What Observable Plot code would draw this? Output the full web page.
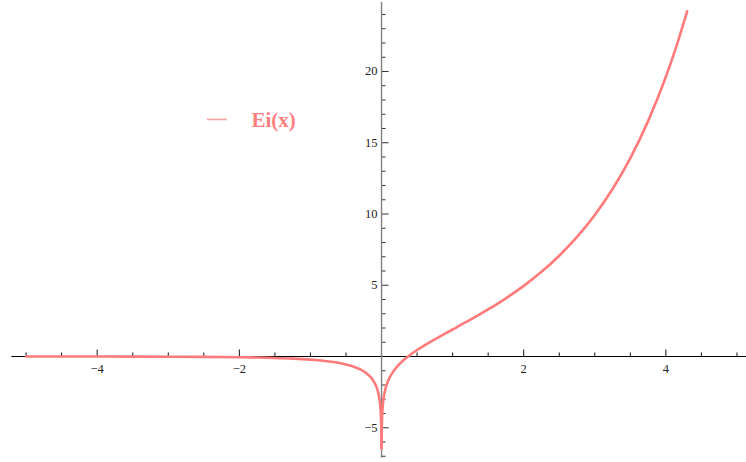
<!DOCTYPE html>
<html><head><meta charset="utf-8">
<script src="https://cdn.jsdelivr.net/npm/d3@7"></script>
<script src="https://cdn.jsdelivr.net/npm/@observablehq/plot@0.6"></script>
<style>
body{margin:0;background:#fff}
#wrap{position:relative;width:746px;height:462px}
#legend{position:absolute;left:0;top:0;pointer-events:none}
</style>
</head><body><div id="wrap"></div>
<script>
// Ei(x) for x < 0
const negX = [-5, -4.5, -4, -3.5, -3, -2.5, -2, -1.75, -1.5, -1.25, -1, -0.9, -0.8, -0.7, -0.6, -0.5, -0.4, -0.3, -0.25, -0.2, -0.15, -0.1, -0.07, -0.05, -0.03, -0.02, -0.01, -0.005, -0.002, -0.0009];
const negY = [-0.001148, -0.002073, -0.003779, -0.00697, -0.01305, -0.02491, -0.0489, -0.0698, -0.1, -0.1464, -0.2194, -0.2602, -0.3106, -0.3738, -0.4544, -0.5598, -0.7024, -0.9057, -1.0443, -1.2227, -1.4645, -1.8229, -2.1508, -2.4679, -2.9592, -3.3547, -4.0379, -4.7261, -5.6394, -6.4368];
// Ei(x) for x > 0
const posX = [0.0009, 0.002, 0.005, 0.01, 0.02, 0.03, 0.05, 0.07, 0.1, 0.15, 0.2, 0.25, 0.3, 0.4, 0.5, 0.6, 0.7, 0.8, 0.9, 1, 1.25, 1.5, 1.75, 2, 2.25, 2.5, 2.75, 3, 3.25, 3.5, 3.75, 4, 4.15, 4.3];
const posY = [-6.435, -5.6354, -4.7161, -4.0179, -3.3147, -2.8991, -2.3679, -2.0109, -1.6228, -1.1641, -0.8218, -0.5425, -0.3027, 0.1048, 0.4542, 0.7699, 1.0649, 1.3474, 1.6228, 1.8951, 2.581, 3.3013, 4.0837, 4.9542, 5.9406, 7.0738, 8.3906, 9.9338, 11.757, 13.925, 16.517, 19.631, 21.8, 24.23];

const xMajorTicks = [-4, -2, 2, 4];
const xTickLabels = ["−4", "−2", "2", "4"];
const xMinorTicks = [-5, -4.5, -4, -3.5, -3, -2.5, -2, -1.5, -1, -0.5, 0.5, 1, 1.5, 2, 2.5, 3, 3.5, 4, 4.5, 5];
const yMajorTicks = [-5, 5, 10, 15, 20];
const yTickLabels = ["−5", "5", "10", "15", "20"];
const yMinorTicks = [-7, -6, -5, -4, -3, -2, -1, 1, 2, 3, 4, 5, 6, 7, 8, 9, 10, 11, 12, 13, 14, 15, 16, 17, 18, 19, 20, 21, 22, 23, 24];
const seriesName = "Ei(x)";

const W = 746, H = 462;
const xDomain = [-5.36, 5.134];
const yDomain = [-7.438, 24.982];
const xAxisExtent = [-5.2, 5.2];
const yAxisExtent = [-7.14, 24.84];
const xppu = W / (xDomain[1] - xDomain[0]);
const yppu = H / (yDomain[1] - yDomain[0]);

const neg = negX.map((x, i) => ({x, y: negY[i]}));
const pos = posX.map((x, i) => ({x, y: posY[i]}));
const color = "#ff7b7b";
const font = "Liberation Serif";

const isMajorX = v => xMajorTicks.includes(v);
const isMajorY = v => yMajorTicks.includes(v);

const chart = Plot.plot({
  width: W, height: H, margin: 0,
  style: {background: "#fff", fontFamily: font},
  x: {domain: xDomain, axis: null},
  y: {domain: yDomain, axis: null},
  marks: [
    Plot.link(xMinorTicks, {x1: d => d, x2: d => d, y1: 0, y2: d => (isMajorX(d) ? 7 : 4) / yppu, stroke: "#111", strokeWidth: 1}),
    Plot.link(yMinorTicks, {y1: d => d, y2: d => d, x1: 0, x2: d => (isMajorY(d) ? 7 : 4) / xppu, stroke: "#333", strokeWidth: 1}),
    Plot.ruleY([0], {x1: xAxisExtent[0], x2: xAxisExtent[1], stroke: "#000", strokeWidth: 1}),
    Plot.ruleX([0], {y1: yAxisExtent[0], y2: yAxisExtent[1], stroke: "#808080", strokeWidth: 1.4}),
    Plot.text(xMajorTicks, {x: d => d, y: 0, text: (d, i) => xTickLabels[i], dy: 12, fontSize: 12.5, fill: "#222", fontFamily: font}),
    Plot.text(yMajorTicks, {x: 0, y: d => d, text: (d, i) => yTickLabels[i], dx: -4, textAnchor: "end", fontSize: 12.5, fill: "#222", fontFamily: font}),
    Plot.line(neg, {x: "x", y: "y", stroke: color, strokeWidth: 2.6, curve: "monotone-x"}),
    Plot.line(pos, {x: "x", y: "y", stroke: color, strokeWidth: 2.6, curve: "monotone-x"})
  ]
});

const wrap = document.getElementById("wrap");
wrap.appendChild(chart);

const leg = d3.select(wrap).append("svg").attr("id", "legend").attr("width", W).attr("height", H);
leg.append("line").attr("x1", 207).attr("x2", 227).attr("y1", 119.5).attr("y2", 119.5)
  .attr("stroke", "#ffa0a0").attr("stroke-width", 1.6);
leg.append("text").attr("x", 251.5).attr("y", 126.5).attr("font-family", font).attr("font-weight", "bold")
  .attr("font-size", 21).attr("fill", "#ff8080").text(seriesName);
</script>
</body></html>
